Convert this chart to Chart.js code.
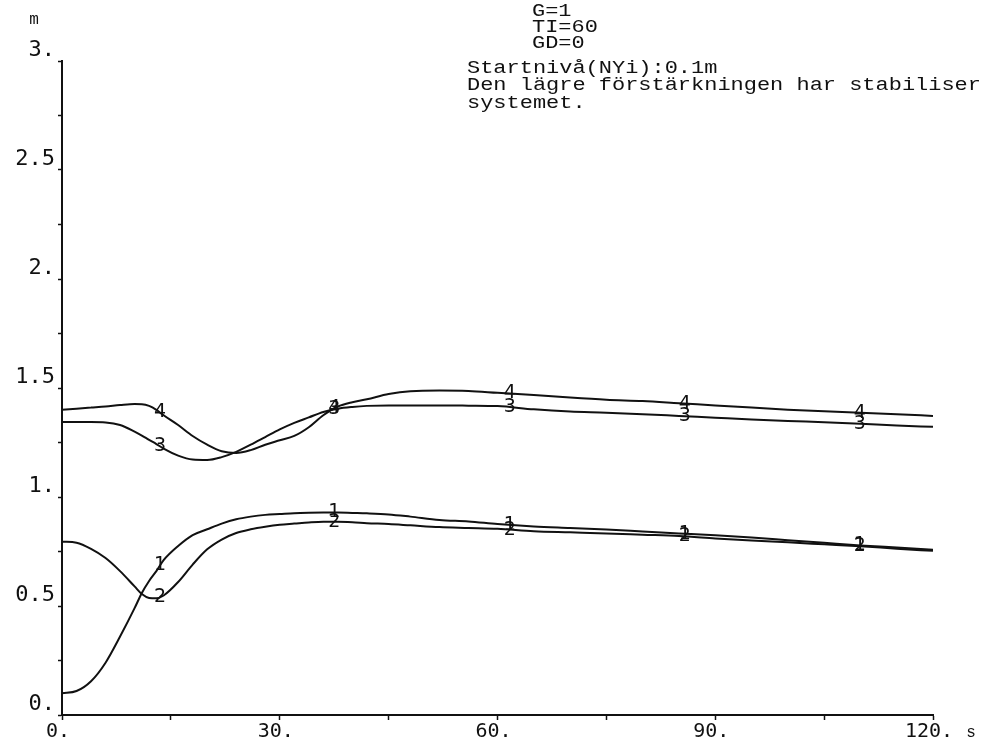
<!DOCTYPE html>
<html>
<head>
<meta charset="utf-8">
<script src="https://cdn.jsdelivr.net/npm/chart.js@4.4.1/dist/chart.umd.min.js"></script>
<style>
  body { margin: 0; background: #fff; }
  #wrap { width: 982px; height: 746px; }
</style>
</head>
<body>
<div id="wrap"><canvas id="myChart"></canvas></div>
<script>
// time axis (s) shared by all four level curves
const time = [0, 2, 4, 6, 8, 10, 11, 12, 13, 14, 16, 18, 20, 22, 24, 26, 28, 30, 32, 34, 36, 38, 40, 42, 45, 48, 52, 56, 60, 65, 70, 75, 80, 85, 90, 95, 100, 105, 110, 115, 120];

// levels (m) for tanks 1..4
const level1 = [0.10, 0.11, 0.155, 0.24, 0.36, 0.49, 0.56, 0.615, 0.66, 0.71, 0.775, 0.825, 0.852, 0.878, 0.898, 0.91, 0.918, 0.922, 0.926, 0.928, 0.929, 0.929, 0.927, 0.925, 0.92, 0.91, 0.895, 0.888, 0.876, 0.865, 0.858, 0.851, 0.842, 0.833, 0.824, 0.814, 0.802, 0.79, 0.778, 0.768, 0.758];
const level2 = [0.795, 0.79, 0.762, 0.72, 0.66, 0.59, 0.555, 0.537, 0.535, 0.548, 0.61, 0.69, 0.76, 0.805, 0.835, 0.852, 0.864, 0.873, 0.878, 0.883, 0.886, 0.886, 0.884, 0.88, 0.876, 0.87, 0.862, 0.858, 0.854, 0.843, 0.838, 0.833, 0.827, 0.821, 0.81, 0.80, 0.792, 0.783, 0.774, 0.763, 0.753];
const level3 = [1.344, 1.344, 1.344, 1.342, 1.33, 1.30, 1.282, 1.262, 1.243, 1.222, 1.19, 1.172, 1.17, 1.183, 1.207, 1.24, 1.275, 1.31, 1.34, 1.365, 1.39, 1.405, 1.413, 1.418, 1.42, 1.42, 1.42, 1.419, 1.417, 1.402, 1.392, 1.387, 1.38, 1.372, 1.364, 1.356, 1.349, 1.343, 1.336, 1.328, 1.322];
const level4 = [1.40, 1.405, 1.41, 1.415, 1.422, 1.427, 1.426, 1.418, 1.40, 1.375, 1.33, 1.28, 1.24, 1.21, 1.202, 1.215, 1.24, 1.26, 1.28, 1.32, 1.375, 1.415, 1.435, 1.448, 1.472, 1.485, 1.488, 1.486, 1.478, 1.468, 1.456, 1.446, 1.44, 1.43, 1.42, 1.41, 1.40, 1.393, 1.387, 1.38, 1.372];

const curveNames = ['1', '2', '3', '4'];
const labelTimes = [13.5, 37.5, 61.7, 85.8, 109.9]; // where the curve numbers are written

const xTickLabels = {0: '0.', 30: '30.', 60: '60.', 90: '90.', 120: '120.'};
const yTickLabels = {0: '0.', 0.5: '0.5', 1: '1.', 1.5: '1.5', 2: '2.', 2.5: '2.5', 3: '3.'};

const paramLines = ['G=1', 'TI=60', 'GD=0'];
const noteLines = ['Startnivå(NYi):0.1m', 'Den lägre förstärkningen har stabiliserat', 'systemet.'];

const ink = '#111';
const levels = [level1, level2, level3, level4];

function series(values) {
    return values.map((v, i) => ({x: time[i], y: v}));
}

// typewriter-style text: a small mono font stretched sideways
function wideText(c, s, x, y) {
    c.save();
    c.translate(x, y);
    c.scale(1.22, 1);
    c.fillText(s, 0, 0);
    c.restore();
}

// writes the curve numbers, the unit letters and the notes
const annotate = {
    id: 'annotate',
    afterDraw(chart) {
        const c = chart.ctx;
        const area = chart.chartArea;
        c.save();
        c.fillStyle = ink;
        c.textAlign = 'center';
        c.textBaseline = 'middle';
        c.font = '19px "DejaVu Sans"';
        chart.data.datasets.forEach((ds, i) => {
            const line = chart.getDatasetMeta(i).dataset;
            labelTimes.forEach(t => {
                const px = chart.scales.x.getPixelForValue(t);
                const p = line.interpolate({x: px}, 'x');
                if (p) c.fillText(curveNames[i], px, p.y);
            });
        });

        c.font = '16px "Liberation Mono"';
        c.fillText('m', area.left - 28, 20);
        c.fillText('s', area.right + 38, area.bottom + 18);

        c.textAlign = 'left';
        c.font = '18px "Liberation Mono"';
        paramLines.forEach((s, i) => wideText(c, s, 532, 11 + i * 16));
        noteLines.forEach((s, i) => wideText(c, s, 467, 68 + i * 17.5));
        c.restore();
    }
};

const ctx = document.getElementById('myChart').getContext('2d');
new Chart(ctx, {
    type: 'line',
    data: {
        datasets: levels.map((lv, i) => ({
            label: curveNames[i],
            data: series(lv),
            borderColor: ink,
            borderWidth: 2,
            pointRadius: 0,
            cubicInterpolationMode: 'monotone',
            fill: false
        }))
    },
    options: {
        responsive: true,
        maintainAspectRatio: false,
        animation: false,
        layout: {padding: {top: 61, right: 49, left: 0, bottom: 0}},
        plugins: {legend: {display: false}, tooltip: {enabled: false}},
        scales: {
            x: {
                type: 'linear',
                min: 0,
                max: 120,
                afterFit: s => { s.height = 31; },
                border: {color: ink, width: 2},
                grid: {drawOnChartArea: false, drawTicks: true, tickLength: 5, color: ink, tickWidth: 1.5},
                ticks: {
                    stepSize: 15,
                    autoSkip: false,
                    maxRotation: 0,
                    padding: 0,
                    labelOffset: -4,
                    color: ink,
                    font: {family: '"DejaVu Sans Mono"', size: 20},
                    callback: v => xTickLabels[v] ?? ''
                }
            },
            y: {
                min: 0,
                max: 3,
                afterFit: s => { s.width = 62; },
                border: {color: ink, width: 2},
                grid: {drawOnChartArea: false, drawTicks: true, tickLength: 4, color: ink, tickWidth: 1.5},
                ticks: {
                    stepSize: 0.25,
                    autoSkip: false,
                    padding: 3,
                    labelOffset: -11,
                    color: ink,
                    font: {family: '"DejaVu Sans Mono"', size: 22},
                    callback: v => yTickLabels[v] ?? ''
                }
            }
        }
    },
    plugins: [annotate]
});
</script>
</body>
</html>
